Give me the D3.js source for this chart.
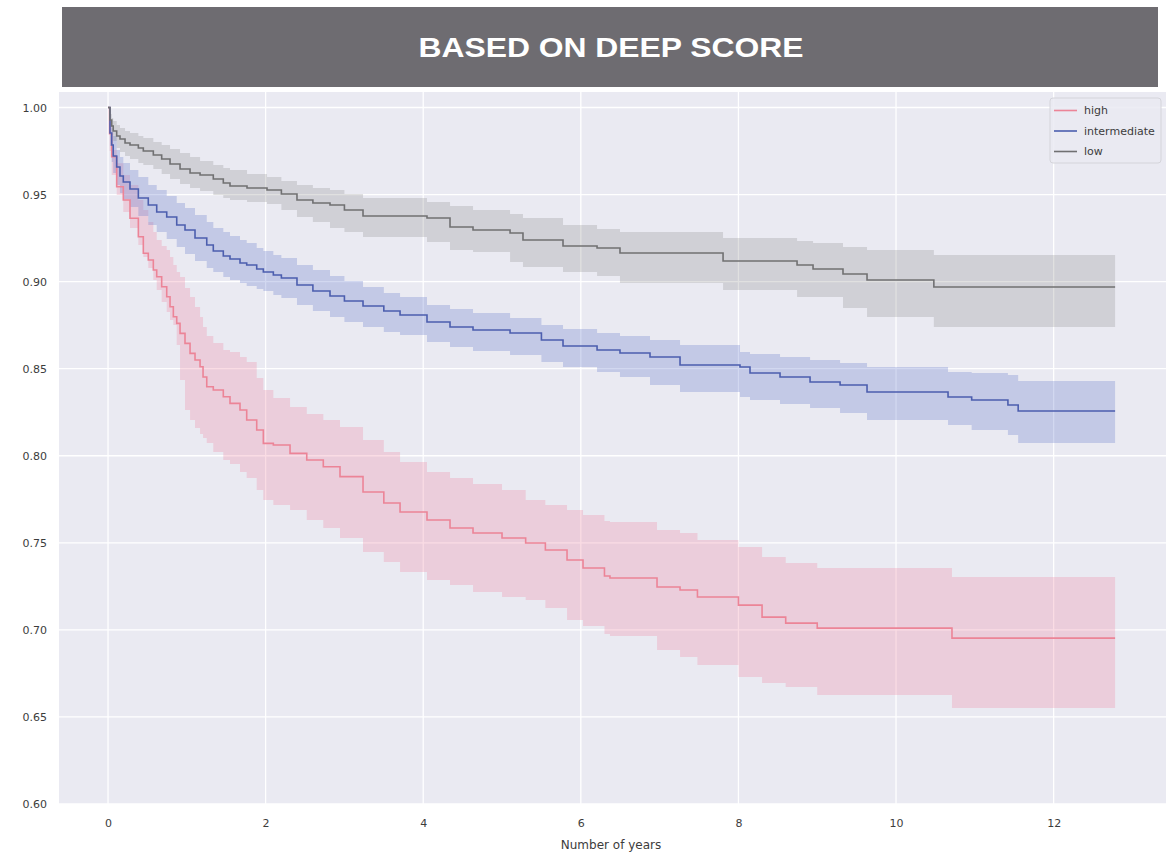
<!DOCTYPE html>
<html>
<head>
<meta charset="utf-8">
<script src="https://cdn.jsdelivr.net/npm/d3@7"></script>
<style>
  html, body { margin: 0; padding: 0; background: #ffffff; }
  svg { display: block; }
</style>
</head>
<body>
<svg id="chart" width="1175" height="856"></svg>
<script>
// Kaplan-Meier survival estimates by risk group, with confidence bands.
const endTime = 12.78;

// low risk
const lowT  = [0, 0.025, 0.047, 0.066, 0.11, 0.152, 0.216, 0.279, 0.385, 0.448, 0.575, 0.681, 0.787, 0.914, 1.041, 1.168, 1.336, 1.463, 1.548, 1.764, 2.018, 2.2, 2.398, 2.6, 2.817, 3.0, 3.236, 4.048, 4.34, 4.632, 5.102, 5.266, 5.774, 6.206, 6.497, 7.805, 8.744, 8.947, 9.327, 9.632, 10.48];
const lowS  = [1.0, 0.99282, 0.98937, 0.9865, 0.98363, 0.98191, 0.97961, 0.97846, 0.97674, 0.975, 0.97272, 0.97042, 0.96755, 0.96468, 0.96238, 0.96123, 0.95893, 0.95663, 0.95491, 0.95376, 0.95261, 0.95032, 0.94687, 0.94515, 0.944, 0.94113, 0.93768, 0.93653, 0.93136, 0.92964, 0.92792, 0.92389, 0.92045, 0.9193, 0.91643, 0.91183, 0.90953, 0.90724, 0.90437, 0.90092, 0.8969];
const lowHi = [1.0, 0.99627, 0.99397, 0.99225, 0.98995, 0.98822, 0.9865, 0.98535, 0.98363, 0.98248, 0.98018, 0.97846, 0.97616, 0.97387, 0.97157, 0.96927, 0.96697, 0.96525, 0.9641, 0.9618, 0.96008, 0.95778, 0.95548, 0.95376, 0.95261, 0.95032, 0.94802, 0.94572, 0.94342, 0.94113, 0.93883, 0.93653, 0.93251, 0.93021, 0.92849, 0.92504, 0.92332, 0.92217, 0.91988, 0.91815, 0.91528];
const lowLo = [1.0, 0.9888, 0.98421, 0.98076, 0.97674, 0.97444, 0.97214, 0.97042, 0.96812, 0.96697, 0.96468, 0.9618, 0.95893, 0.95606, 0.95376, 0.95204, 0.94974, 0.94802, 0.94687, 0.94572, 0.94457, 0.94113, 0.93711, 0.93423, 0.93079, 0.92849, 0.92562, 0.92275, 0.91815, 0.917, 0.91126, 0.90838, 0.90551, 0.90322, 0.8992, 0.89518, 0.89116, 0.89116, 0.88484, 0.87967, 0.87392];

// intermediate risk
const intT  = [0, 0.025, 0.047, 0.066, 0.11, 0.152, 0.194, 0.279, 0.385, 0.511, 0.618, 0.745, 0.872, 0.977, 1.104, 1.253, 1.336, 1.463, 1.548, 1.675, 1.76, 1.887, 1.971, 2.098, 2.2, 2.398, 2.6, 2.817, 3.0, 3.236, 3.5, 3.706, 4.048, 4.34, 4.632, 5.102, 5.5, 5.774, 6.206, 6.497, 6.878, 7.259, 8.02, 8.147, 8.528, 8.909, 9.29, 9.632, 10.66, 10.96, 11.42, 11.55];
const intS  = [1.0, 0.98535, 0.97846, 0.97214, 0.96582, 0.96066, 0.95721, 0.95319, 0.94802, 0.944, 0.93998, 0.9371, 0.93251, 0.92964, 0.92504, 0.92102, 0.91758, 0.9147, 0.91298, 0.91068, 0.90953, 0.90723, 0.90551, 0.90379, 0.90207, 0.89805, 0.8946, 0.89173, 0.88886, 0.88599, 0.88311, 0.88082, 0.8768, 0.87392, 0.8722, 0.87047, 0.86645, 0.863, 0.86071, 0.85898, 0.85669, 0.85209, 0.85094, 0.8475, 0.8452, 0.84233, 0.84061, 0.83659, 0.83371, 0.83199, 0.82912, 0.82568];
const intHi = [1.0, 0.99282, 0.98822, 0.98363, 0.97559, 0.97157, 0.96812, 0.9641, 0.96008, 0.95548, 0.95261, 0.94917, 0.94515, 0.94227, 0.93825, 0.93423, 0.93079, 0.92849, 0.9262, 0.92389, 0.92217, 0.9193, 0.91758, 0.91528, 0.91356, 0.90953, 0.90666, 0.90322, 0.90034, 0.8969, 0.89346, 0.89116, 0.88656, 0.88426, 0.88197, 0.87909, 0.87507, 0.87278, 0.87047, 0.86875, 0.86645, 0.86358, 0.85956, 0.85841, 0.85669, 0.85497, 0.85324, 0.85095, 0.84807, 0.8475, 0.84635, 0.8429];
const intLo = [1.0, 0.97789, 0.9687, 0.96238, 0.95549, 0.95089, 0.94744, 0.94285, 0.93768, 0.93251, 0.92849, 0.92447, 0.91988, 0.91586, 0.91184, 0.90781, 0.90551, 0.90264, 0.90092, 0.8992, 0.89747, 0.89575, 0.8946, 0.8923, 0.89058, 0.88656, 0.88311, 0.87967, 0.8768, 0.87392, 0.87105, 0.86932, 0.8653, 0.86243, 0.86014, 0.85784, 0.85382, 0.85095, 0.84807, 0.8452, 0.84061, 0.83659, 0.83371, 0.83199, 0.8297, 0.8274, 0.82453, 0.82051, 0.81763, 0.81476, 0.81189, 0.80729];

// high risk
const highT  = [0, 0.02, 0.047, 0.11, 0.194, 0.279, 0.385, 0.448, 0.511, 0.575, 0.618, 0.681, 0.745, 0.787, 0.829, 0.872, 0.914, 0.977, 1.041, 1.104, 1.168, 1.206, 1.253, 1.336, 1.463, 1.548, 1.675, 1.76, 1.887, 1.971, 2.098, 2.31, 2.522, 2.732, 2.944, 3.236, 3.5, 3.706, 4.048, 4.34, 4.632, 5.0, 5.3, 5.55, 5.825, 6.028, 6.3, 6.37, 6.967, 7.259, 7.48, 8.0, 8.3, 8.6, 9.0, 10.71];
const highS  = [1.0, 0.985, 0.97174, 0.95451, 0.94687, 0.93636, 0.92579, 0.91626, 0.91241, 0.90666, 0.90281, 0.89707, 0.89133, 0.88558, 0.87984, 0.87605, 0.8703, 0.86456, 0.85882, 0.85497, 0.85112, 0.8452, 0.83963, 0.83774, 0.83389, 0.8301, 0.82625, 0.82051, 0.81476, 0.80712, 0.80615, 0.80138, 0.79753, 0.79368, 0.788, 0.77915, 0.77283, 0.76766, 0.76307, 0.75847, 0.7556, 0.75273, 0.74986, 0.74584, 0.7401, 0.7355, 0.7309, 0.72976, 0.72459, 0.72286, 0.71884, 0.71424, 0.70735, 0.7039, 0.70103, 0.69529];
const highHi = [1.0, 0.992, 0.97559, 0.96795, 0.96123, 0.95549, 0.94687, 0.94113, 0.93423, 0.92849, 0.9239, 0.92045, 0.91815, 0.91413, 0.90953, 0.90551, 0.90264, 0.89632, 0.89116, 0.88541, 0.87967, 0.87392, 0.86875, 0.86473, 0.86071, 0.85956, 0.85669, 0.85382, 0.84463, 0.83774, 0.83314, 0.82797, 0.82395, 0.82051, 0.81649, 0.80902, 0.80213, 0.79638, 0.79064, 0.78719, 0.78375, 0.7803, 0.77456, 0.77168, 0.76881, 0.76594, 0.76249, 0.76192, 0.75732, 0.7556, 0.75158, 0.74756, 0.74182, 0.73837, 0.7355, 0.73033];
const highLo = [1.0, 0.975, 0.96123, 0.94974, 0.93998, 0.93079, 0.92102, 0.91413, 0.90781, 0.90092, 0.89518, 0.88829, 0.88254, 0.87795, 0.87508, 0.86358, 0.84348, 0.82625, 0.82051, 0.81591, 0.81247, 0.81017, 0.80729, 0.80213, 0.79753, 0.79523, 0.79064, 0.78719, 0.7803, 0.77456, 0.77168, 0.76881, 0.76307, 0.75847, 0.75273, 0.74469, 0.73894, 0.7332, 0.7286, 0.72573, 0.72171, 0.71884, 0.71711, 0.71252, 0.70562, 0.70218, 0.69758, 0.69643, 0.68839, 0.68437, 0.6798, 0.6729, 0.66945, 0.66715, 0.66255, 0.65508];

// axis ticks and labels
const xTicks = [0, 2, 4, 6, 8, 10, 12];
const yTicks = [0.60, 0.65, 0.70, 0.75, 0.80, 0.85, 0.90, 0.95, 1.00];
const titleText = "BASED ON DEEP SCORE";
const xLabel = "Number of years";
const groupNames = ["high", "intermediate", "low"];

const groups = [
  { name: "high",         t: highT, s: highS, lo: highLo, hi: highHi, line: "#ec8497", band: "rgba(240,140,165,0.30)" },
  { name: "intermediate", t: intT,  s: intS,  lo: intLo,  hi: intHi,  line: "#4c5eae", band: "rgba(95,115,200,0.28)" },
  { name: "low",          t: lowT,  s: lowS,  lo: lowLo,  hi: lowHi,  line: "#707072", band: "rgba(135,135,135,0.26)" }
];

const svg = d3.select("#chart");
const plot = { left: 59, right: 1166, top: 92, bottom: 804 };

const x = d3.scaleLinear().domain([-0.622, 13.426]).range([plot.left, plot.right]);
const y = d3.scaleLinear().domain([0.6, 1.0089]).range([plot.bottom, plot.top]);

// title banner
svg.append("rect")
  .attr("x", 62).attr("y", 7).attr("width", 1096).attr("height", 80)
  .attr("fill", "#6e6c71");
svg.append("text")
  .attr("x", 611).attr("y", 57)
  .attr("text-anchor", "middle")
  .attr("font-family", "'Liberation Sans', Arial, sans-serif")
  .attr("font-weight", "bold")
  .attr("font-size", 28.5)
  .attr("textLength", 385)
  .attr("lengthAdjust", "spacingAndGlyphs")
  .attr("fill", "#ffffff")
  .text(titleText);

// plot background
svg.append("rect")
  .attr("x", plot.left).attr("y", plot.top)
  .attr("width", plot.right - plot.left).attr("height", plot.bottom - plot.top)
  .attr("fill", "#eaeaf2");

// grid
const grid = svg.append("g").attr("stroke", "#ffffff").attr("stroke-width", 1.3);
grid.selectAll("line.v").data(xTicks).join("line")
  .attr("x1", d => x(d)).attr("x2", d => x(d))
  .attr("y1", plot.top).attr("y2", plot.bottom);
grid.selectAll("line.h").data(yTicks).join("line")
  .attr("x1", plot.left).attr("x2", plot.right)
  .attr("y1", d => y(d)).attr("y2", d => y(d));

// bands and survival curves
svg.append("defs").append("clipPath").attr("id", "plotclip")
  .append("rect")
  .attr("x", plot.left).attr("y", plot.top)
  .attr("width", plot.right - plot.left).attr("height", plot.bottom - plot.top);

const layer = svg.append("g").attr("clip-path", "url(#plotclip)");

function rows(g) {
  const r = g.t.map((t, i) => ({ t, s: g.s[i], lo: g.lo[i], hi: g.hi[i] }));
  const last = r[r.length - 1];
  r.push({ t: endTime, s: last.s, lo: last.lo, hi: last.hi });
  return r;
}

const area = d3.area().curve(d3.curveStepAfter)
  .x(d => x(d.t)).y0(d => y(d.lo)).y1(d => y(d.hi));
const line = d3.line().curve(d3.curveStepAfter)
  .x(d => x(d.t)).y(d => y(d.s));

groups.forEach(g => {
  layer.append("path").datum(rows(g))
    .attr("d", area)
    .attr("fill", g.band)
    .attr("stroke", "none");
});
groups.forEach(g => {
  layer.append("path").datum(rows(g))
    .attr("d", line)
    .attr("fill", "none")
    .attr("stroke", g.line)
    .attr("stroke-width", 1.6);
});

// axes
const tickFont = "'DejaVu Sans', sans-serif";
const xAxis = svg.append("g")
  .attr("transform", `translate(0,${plot.bottom})`)
  .call(d3.axisBottom(x).tickValues(xTicks).tickSize(0).tickPadding(15).tickFormat(d3.format("d")));
const yAxis = svg.append("g")
  .attr("transform", `translate(${plot.left},0)`)
  .call(d3.axisLeft(y).tickValues(yTicks).tickSize(0).tickPadding(12).tickFormat(d3.format(".2f")));
[xAxis, yAxis].forEach(a => {
  a.select(".domain").remove();
  a.selectAll("text")
    .attr("font-family", tickFont)
    .attr("font-size", 11)
    .attr("fill", "#3c3c3c");
});

svg.append("text")
  .attr("x", 611).attr("y", 849)
  .attr("text-anchor", "middle")
  .attr("font-family", tickFont)
  .attr("font-size", 12)
  .attr("fill", "#3c3c3c")
  .text(xLabel);

// legend
const legend = svg.append("g");
legend.append("rect")
  .attr("x", 1050).attr("y", 98).attr("width", 111).attr("height", 65)
  .attr("rx", 3)
  .attr("fill", "#eaeaf2").attr("fill-opacity", 0.85)
  .attr("stroke", "#d4d4da").attr("stroke-width", 1);
groupNames.forEach((name, i) => {
  const g = groups.find(d => d.name === name);
  const yy = 110.5 + i * 20.5;
  legend.append("line")
    .attr("x1", 1054).attr("x2", 1077)
    .attr("y1", yy).attr("y2", yy)
    .attr("stroke", g.line).attr("stroke-width", 1.6);
  legend.append("text")
    .attr("x", 1084).attr("y", yy)
    .attr("dy", "0.35em")
    .attr("font-family", tickFont)
    .attr("font-size", 11)
    .attr("fill", "#3c3c3c")
    .text(name);
});
</script>
</body>
</html>
